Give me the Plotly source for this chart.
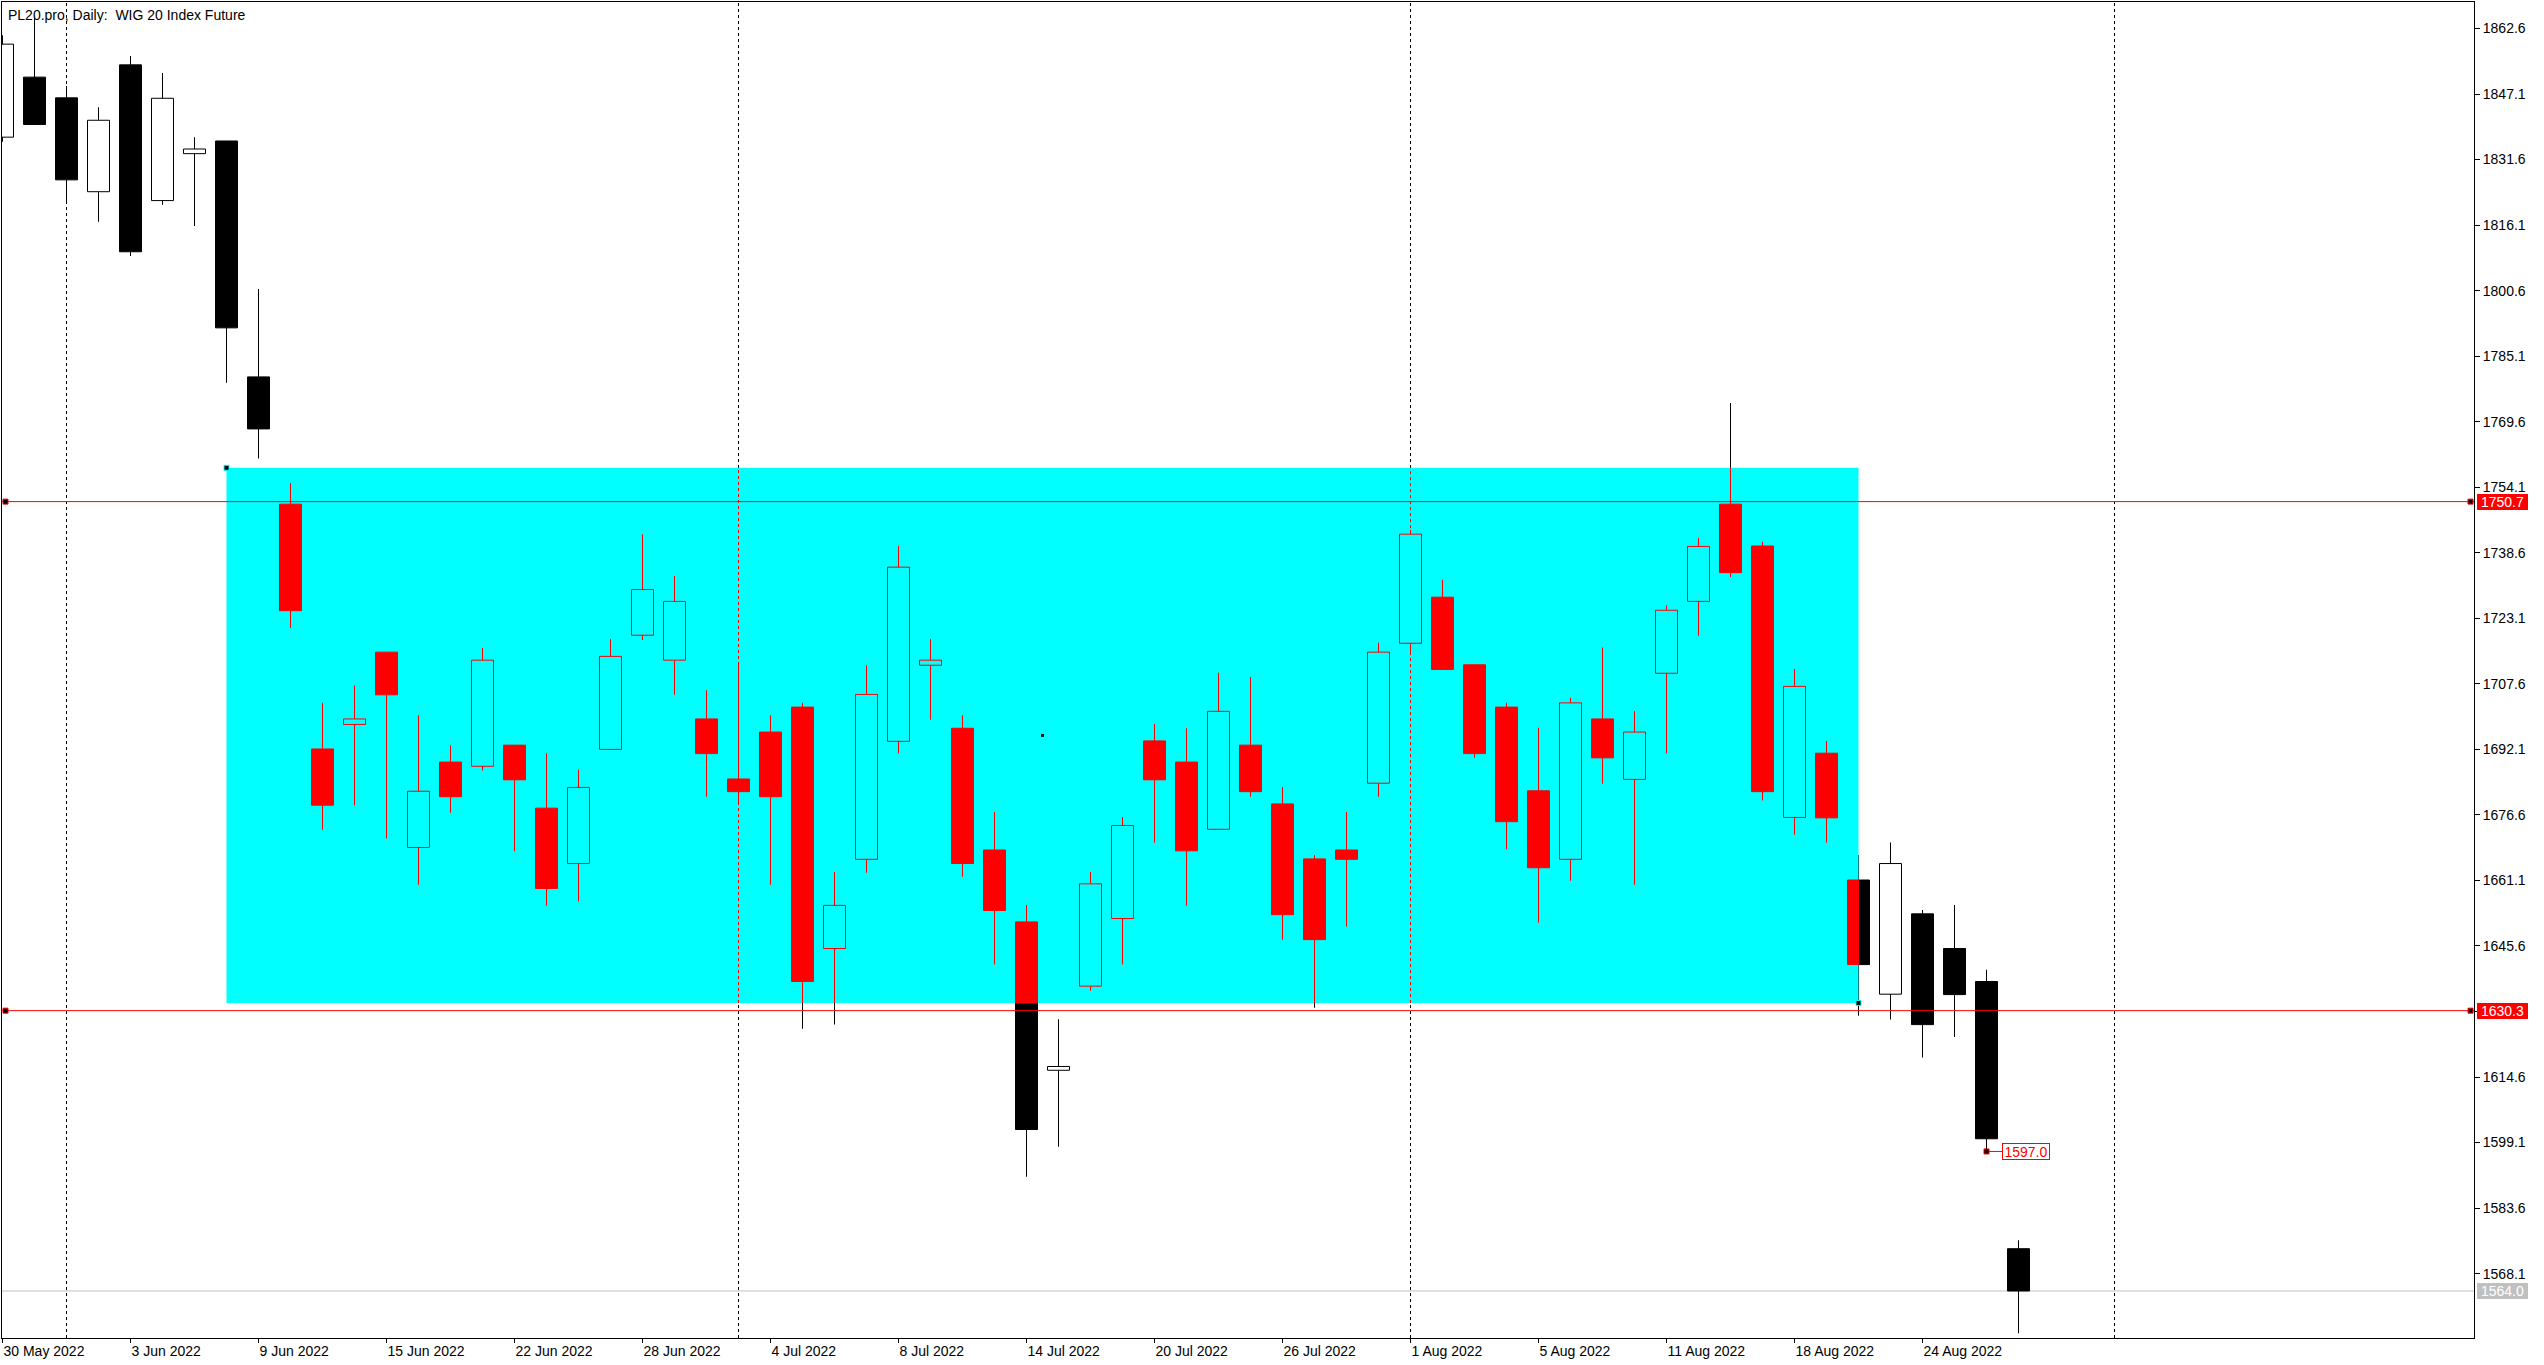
import plotly.graph_objects as go

# ---------------- data ----------------
dates = [
    "2022-05-30", "2022-05-31", "2022-06-01", "2022-06-02", "2022-06-03", "2022-06-06",
    "2022-06-07", "2022-06-08", "2022-06-09", "2022-06-10", "2022-06-13", "2022-06-14",
    "2022-06-15", "2022-06-17", "2022-06-20", "2022-06-21", "2022-06-22", "2022-06-23",
    "2022-06-24", "2022-06-27", "2022-06-28", "2022-06-29", "2022-06-30", "2022-07-01",
    "2022-07-04", "2022-07-05", "2022-07-06", "2022-07-07", "2022-07-08", "2022-07-11",
    "2022-07-12", "2022-07-13", "2022-07-14", "2022-07-15", "2022-07-18", "2022-07-19",
    "2022-07-20", "2022-07-21", "2022-07-22", "2022-07-25", "2022-07-26", "2022-07-27",
    "2022-07-28", "2022-07-29", "2022-08-01", "2022-08-02", "2022-08-03", "2022-08-04",
    "2022-08-05", "2022-08-08", "2022-08-09", "2022-08-10", "2022-08-11", "2022-08-12",
    "2022-08-16", "2022-08-17", "2022-08-18", "2022-08-19", "2022-08-22", "2022-08-23",
    "2022-08-24", "2022-08-25", "2022-08-26", "2022-08-29",
]
future_dates = ["2022-08-30", "2022-08-31", "2022-09-01"]

opens = [1836.9, 1851.1, 1846.2, 1824.0, 1854.0, 1821.9, 1833.0, 1836.0, 1780.2, 1750.1,
         1692.2, 1698.0, 1715.1, 1668.9, 1689.1, 1688.1, 1693.1, 1678.2, 1665.1, 1692.1,
         1719.1, 1713.2, 1699.3, 1685.1, 1696.2, 1702.1, 1645.0, 1666.1, 1694.0, 1712.0,
         1697.1, 1668.3, 1651.3, 1616.2, 1636.1, 1652.1, 1694.1, 1689.1, 1673.2, 1693.1,
         1679.2, 1666.2, 1668.3, 1684.1, 1717.2, 1728.1, 1712.1, 1702.1, 1682.3, 1666.1,
         1699.3, 1685.0, 1710.1, 1727.1, 1750.1, 1740.2, 1676.0, 1691.2, 1661.2, 1634.2,
         1653.2, 1645.0, 1637.2, 1574.0]
highs = [1861.0, 1865.4, 1849.0, 1844.0, 1856.1, 1852.1, 1836.9, 1836.0, 1801.0, 1755.1,
         1703.1, 1707.2, 1715.1, 1700.2, 1693.1, 1716.1, 1693.1, 1691.2, 1687.3, 1718.2,
         1743.0, 1733.1, 1706.1, 1712.7, 1700.2, 1703.1, 1663.1, 1712.0, 1740.2, 1718.2,
         1700.2, 1677.3, 1655.3, 1628.3, 1663.1, 1676.1, 1698.1, 1697.1, 1710.2, 1709.2,
         1683.2, 1667.1, 1677.3, 1717.3, 1744.0, 1732.2, 1712.1, 1703.1, 1697.2, 1704.3,
         1716.2, 1701.2, 1726.2, 1742.1, 1774.0, 1741.2, 1711.1, 1694.1, 1667.1, 1670.1,
         1654.1, 1655.3, 1640.0, 1576.0]
lows = [1835.8, 1839.9, 1821.1, 1816.9, 1808.8, 1820.9, 1815.9, 1778.8, 1760.9, 1720.8,
        1673.1, 1678.9, 1671.0, 1660.1, 1677.1, 1687.1, 1668.0, 1655.1, 1656.1, 1692.1,
        1718.0, 1705.0, 1680.9, 1679.5, 1660.1, 1626.0, 1627.0, 1662.9, 1691.1, 1699.1,
        1662.0, 1641.2, 1591.0, 1598.1, 1635.0, 1641.2, 1670.0, 1655.1, 1673.2, 1680.9,
        1647.1, 1631.0, 1650.2, 1680.9, 1715.1, 1711.0, 1690.1, 1668.5, 1651.1, 1661.0,
        1684.0, 1660.1, 1691.1, 1719.0, 1732.9, 1680.0, 1671.9, 1670.0, 1629.1, 1628.2,
        1619.2, 1624.1, 1597.0, 1554.0]
closes = [1858.9, 1839.9, 1826.8, 1840.9, 1809.8, 1846.1, 1834.1, 1791.8, 1767.9, 1724.9,
          1678.9, 1699.3, 1705.0, 1682.2, 1680.9, 1713.2, 1684.9, 1659.2, 1683.1, 1714.1,
          1729.9, 1727.1, 1691.1, 1682.1, 1680.9, 1637.2, 1655.2, 1705.1, 1735.2, 1713.2,
          1665.1, 1654.0, 1602.2, 1617.1, 1660.3, 1674.1, 1684.9, 1668.1, 1701.1, 1682.1,
          1653.0, 1647.1, 1666.1, 1715.1, 1743.0, 1711.0, 1691.1, 1675.0, 1664.1, 1703.1,
          1690.1, 1696.2, 1725.0, 1740.1, 1733.9, 1682.1, 1707.0, 1675.9, 1641.2, 1665.1,
          1627.0, 1634.1, 1600.0, 1564.0]

x_tick_labels = ["30 May 2022", "3 Jun 2022", "9 Jun 2022", "15 Jun 2022", "22 Jun 2022",
                 "28 Jun 2022", "4 Jul 2022", "8 Jul 2022", "14 Jul 2022", "20 Jul 2022",
                 "26 Jul 2022", "1 Aug 2022", "5 Aug 2022", "11 Aug 2022", "18 Aug 2022",
                 "24 Aug 2022"]
x_tick_step = 4
y_tick_values = [1862.6, 1847.1, 1831.6, 1816.1, 1800.6, 1785.1, 1769.6, 1754.1, 1738.6,
                 1723.1, 1707.6, 1692.1, 1676.6, 1661.1, 1645.6, 1630.1, 1614.6, 1599.1,
                 1583.6, 1568.1]

title_text = "PL20.pro, Daily:\u00a0 WIG 20 Index Future"
resistance = 1750.7
support = 1630.3
bid = 1564.0
low_label_bar = 62
low_label_price = 1597.0
zone_start_bar, zone_end_bar = 7, 58
zone_top, zone_bottom = 1758.7, 1632.1
marker_dot = (32.5, 1695.4)

# ---------------- style ----------------
FONT = "Liberation Sans"
RED = "#ff0000"
CYAN = "#00ffff"
BAR_PX = 32.0
BODY_W = 22 / BAR_PX
WICK_W = 1 / BAR_PX
X_RANGE = [-0.015625, 77.234375]
Y_RANGE = [1552.88, 1868.87]

n = len(dates)
idx = list(range(n))
is_up = [c >= o for o, c in zip(opens, closes)]
body_lo = [min(o, c) for o, c in zip(opens, closes)]
body_hi = [max(o, c) for o, c in zip(opens, closes)]

fig = go.Figure()
shapes = []

# month separators (first bar of each month, including future bars) - background
all_dates = dates + future_dates
sep_idx = [i for i in range(1, len(all_dates)) if all_dates[i][5:7] != all_dates[i - 1][5:7]]
for i in sep_idx:
    shapes.append(dict(type="line", xref="x", x0=i, x1=i, yref="paper", y0=0, y1=1,
                       line=dict(color="black", width=1, dash="3px,3px"), layer="below"))
# bid line - background
shapes.append(dict(type="line", xref="paper", x0=0, x1=1, yref="y", y0=bid, y1=bid,
                   line=dict(color="#c0c0c0", width=1), layer="below"))

# wicks (as thin bars so trace order is respected)
fig.add_trace(go.Bar(x=idx, base=lows, y=[h - l for h, l in zip(highs, lows)], width=WICK_W,
                     marker=dict(color="black", line=dict(width=0)), hoverinfo="skip"))
# bodies
fig.add_trace(go.Bar(
    x=idx, base=body_lo, y=[h - l for h, l in zip(body_hi, body_lo)], width=BODY_W,
    marker=dict(color=["white" if u else "black" for u in is_up], line=dict(color="black", width=1)),
    hoverinfo="skip",
))

# cyan zone
fig.add_trace(go.Bar(x=[(zone_start_bar + zone_end_bar) / 2], base=[zone_bottom],
                     y=[zone_top - zone_bottom], width=[zone_end_bar - zone_start_bar],
                     marker=dict(color=CYAN, line=dict(width=0)), hoverinfo="skip"))

# wicks inside zone -> red
rwx, rwb, rwh = [], [], []
for i in idx:
    if zone_start_bar <= i < zone_end_bar:
        lo = max(lows[i], zone_bottom)
        hi = min(highs[i], zone_top)
        if hi > lo:
            rwx.append(i)
            rwb.append(lo)
            rwh.append(hi - lo)
fig.add_trace(go.Bar(x=rwx, base=rwb, y=rwh, width=WICK_W,
                     marker=dict(color=RED, line=dict(width=0)), hoverinfo="skip"))

# bodies inside zone -> red / cyan
bx, bb, bh, bw, bc = [], [], [], [], []
for i in idx:
    x0 = max(i - BODY_W / 2, zone_start_bar)
    x1 = min(i + BODY_W / 2, zone_end_bar)
    lo = max(body_lo[i], zone_bottom)
    hi = min(body_hi[i], zone_top)
    if x1 > x0 and hi > lo:
        bx.append((x0 + x1) / 2)
        bw.append(x1 - x0)
        bb.append(lo)
        bh.append(hi - lo)
        bc.append(CYAN if is_up[i] else RED)
fig.add_trace(go.Bar(x=bx, base=bb, y=bh, width=bw,
                     marker=dict(color=bc, line=dict(color=RED, width=1)), hoverinfo="skip"))

# separators inside zone -> red, not across candle bodies
rx, ry = [], []
for i in sep_idx:
    if zone_start_bar <= i <= zone_end_bar:
        pieces = [(zone_bottom, zone_top)]
        if i < n:
            pieces = [(zone_bottom, max(zone_bottom, body_lo[i])), (min(zone_top, body_hi[i]), zone_top)]
        for a, b in pieces:
            if b > a:
                rx += [i, i, None]
                ry += [a, b, None]
fig.add_trace(go.Scatter(x=rx, y=ry, mode="lines", line=dict(color=RED, width=1, dash="3px,3px"),
                         hoverinfo="skip"))

# horizontal levels
for lvl in (resistance, support):
    shapes.append(dict(type="line", xref="paper", x0=0, x1=1, yref="y", y0=lvl, y1=lvl,
                       line=dict(color=RED, width=1), layer="above"))
    for anchor, a, b in ((0, 1, 6), (1, -6, -1)):
        shapes.append(dict(type="rect", xref="paper", xsizemode="pixel", xanchor=anchor, x0=a, x1=b,
                           yref="y", ysizemode="pixel", yanchor=lvl, y0=-2.5, y1=2.5,
                           fillcolor="black", line=dict(color=RED, width=1), layer="above"))
# zone anchor points
for bx_, py_ in ((zone_start_bar, zone_top), (zone_end_bar, zone_bottom)):
    shapes.append(dict(type="rect", xref="x", xsizemode="pixel", xanchor=bx_, x0=-2.5, x1=2.5,
                       yref="y", ysizemode="pixel", yanchor=py_, y0=-2.5, y1=2.5,
                       fillcolor="black", line=dict(color=CYAN, width=1), layer="above"))
# tiny dot
shapes.append(dict(type="rect", xref="x", xsizemode="pixel", xanchor=marker_dot[0], x0=-1.5, x1=1.5,
                   yref="y", ysizemode="pixel", yanchor=marker_dot[1], y0=-1.5, y1=1.5,
                   fillcolor="black", line=dict(width=0), layer="above"))
# low price label connector + point
shapes.append(dict(type="line", xref="x", xsizemode="pixel", xanchor=low_label_bar, x0=0, x1=16,
                   yref="y", y0=low_label_price, y1=low_label_price, line=dict(color=RED, width=1),
                   layer="above"))
shapes.append(dict(type="rect", xref="x", xsizemode="pixel", xanchor=low_label_bar, x0=-2.5, x1=2.5,
                   yref="y", ysizemode="pixel", yanchor=low_label_price, y0=-2.5, y1=2.5,
                   fillcolor="black", line=dict(color=RED, width=1), layer="above"))

annotations = [
    dict(text=title_text, xref="paper", x=0, xanchor="left", xshift=4, yref="paper", y=1,
         yanchor="top", yshift=-3, showarrow=False, font=dict(family=FONT, size=14, color="black")),
    dict(text=f"{low_label_price:.1f}", xref="x", x=low_label_bar, xanchor="left", xshift=15,
         yref="y", y=low_label_price, yanchor="middle", showarrow=False, bgcolor="white",
         bordercolor=RED, borderwidth=1, borderpad=0, width=46, height=15,
         font=dict(family=FONT, size=14, color=RED)),
]
for lvl, bg in ((resistance, RED), (support, RED), (bid, "#c0c0c0")):
    annotations.append(dict(text=f"{lvl:.1f}", xref="paper", x=1, xanchor="left", xshift=3,
                            yref="y", y=lvl, yanchor="middle", showarrow=False, bgcolor=bg,
                            borderpad=0, borderwidth=0, width=51, height=16,
                            font=dict(family=FONT, size=14, color="white")))

fig.update_layout(
    width=2544, height=1365,
    margin=dict(l=2, r=70, t=2, b=27),
    paper_bgcolor="white", plot_bgcolor="white",
    barmode="overlay", showlegend=False,
    font=dict(family=FONT, size=14, color="black"),
    shapes=shapes, annotations=annotations,
    xaxis=dict(range=X_RANGE, showgrid=False, zeroline=False, showline=True, linecolor="black",
               linewidth=1, mirror=True, ticks="outside", ticklen=4, tickcolor="black",
               tickvals=list(range(0, n, x_tick_step))[:len(x_tick_labels)], ticktext=x_tick_labels,
               ticklabelposition="outside right", tickfont=dict(family=FONT, size=14, color="black")),
    yaxis=dict(range=Y_RANGE, side="right", showgrid=False, zeroline=False, showline=True,
               linecolor="black", linewidth=1, mirror=True, ticks="outside", ticklen=5,
               tickcolor="black", tickvals=y_tick_values,
               ticktext=[f"{v:.1f}" for v in y_tick_values],
               tickfont=dict(family=FONT, size=14, color="black")),
)

fig.write_html("out.html", config={"displayModeBar": False},
               post_script="document.body.style.margin='0';document.body.style.overflow='hidden';")
